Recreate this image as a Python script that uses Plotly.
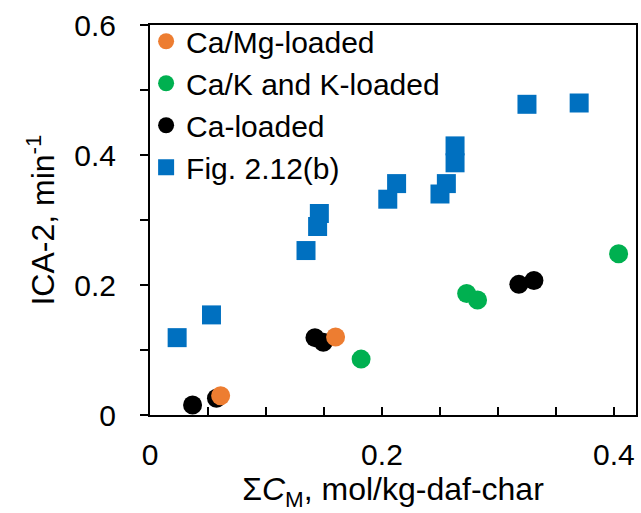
import plotly.graph_objects as go

# Fig. 2.12(b) reference series
fig_x = [0.0234, 0.053, 0.1345, 0.1445, 0.146, 0.205, 0.2126, 0.250, 0.2555, 0.263, 0.263, 0.325, 0.370]
fig_y = [0.119, 0.154, 0.253, 0.290, 0.310, 0.332, 0.356, 0.340, 0.356, 0.414, 0.388, 0.478, 0.480]

# Ca-loaded
ca_x = [0.0367, 0.0573, 0.1422, 0.1494, 0.318, 0.331]
ca_y = [0.0154, 0.0257, 0.119, 0.112, 0.201, 0.207]

# Ca/K and K-loaded
cak_x = [0.182, 0.273, 0.2824, 0.404]
cak_y = [0.086, 0.187, 0.177, 0.248]

# Ca/Mg-loaded
camg_x = [0.0609, 0.160]
camg_y = [0.0297, 0.120]

FONT = "Liberation Sans, Arial, sans-serif"
FS_TICK = 30
FS_TITLE = 32
FS_LEG = 30

fig = go.Figure()
fig.add_trace(go.Scatter(x=fig_x, y=fig_y, mode="markers", name="Fig. 2.12(b)",
                         legendrank=4,
                         marker=dict(symbol="square", size=19, color="#0070C0")))
fig.add_trace(go.Scatter(x=ca_x, y=ca_y, mode="markers", name="Ca-loaded",
                         legendrank=3,
                         marker=dict(symbol="circle", size=19, color="#000000")))
fig.add_trace(go.Scatter(x=cak_x, y=cak_y, mode="markers", name="Ca/K and K-loaded",
                         legendrank=2,
                         marker=dict(symbol="circle", size=19, color="#00B050")))
fig.add_trace(go.Scatter(x=camg_x, y=camg_y, mode="markers", name="Ca/Mg-loaded",
                         legendrank=1,
                         marker=dict(symbol="circle", size=19, color="#ED7D31")))

fig.update_layout(
    width=641, height=513,
    margin=dict(l=150, r=3, t=25, b=98),
    paper_bgcolor="white", plot_bgcolor="white",
    font=dict(family=FONT, size=FS_TICK, color="#000000"),
    showlegend=True,
    legend=dict(x=-0.008, y=1.025, xanchor="left", yanchor="top",
                traceorder="normal",
                bgcolor="rgba(0,0,0,0)", font=dict(size=FS_LEG),
                itemsizing="trace"),
)
fig.update_xaxes(
    range=[0, 0.419], showgrid=False, zeroline=False,
    showline=True, linecolor="black", linewidth=2, mirror=True,
    tickvals=[0, 0.2, 0.4], ticktext=["0", "0.2", "0.4"],
    ticks="inside", ticklen=8, tickwidth=2, tickcolor="black",
    minor=dict(dtick=0.05, ticks="inside", ticklen=8, tickwidth=2, tickcolor="black"),
    ticklabelstandoff=12,
    title=dict(text="Σ<i>C</i><sub>M</sub>, mol/kg-daf-char", font=dict(size=FS_TITLE), standoff=6),
)
fig.update_yaxes(
    range=[0, 0.6], showgrid=False, zeroline=False,
    showline=True, linecolor="black", linewidth=2, mirror=True,
    tickvals=[0, 0.2, 0.4, 0.6], ticktext=["0", "0.2", "0.4", "0.6"],
    ticks="outside", ticklen=8, tickwidth=2, tickcolor="black",
    minor=dict(dtick=0.1, ticks="outside", ticklen=8, tickwidth=2, tickcolor="black"),
    ticklabelstandoff=18,
    title=dict(text="ICA-2, min<sup>-1</sup>", font=dict(size=FS_TITLE), standoff=10),
)

fig.write_html("out.html")
